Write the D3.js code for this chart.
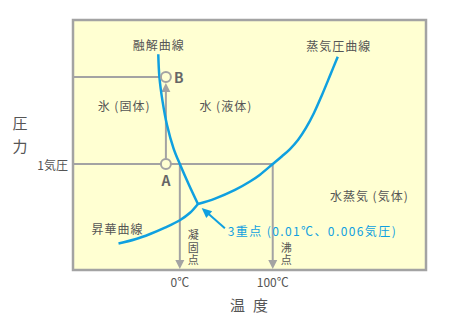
<!DOCTYPE html>
<html lang="ja">
<head>
<meta charset="utf-8">
<title>水の状態図</title>
<script src="https://cdn.jsdelivr.net/npm/d3@7"></script>
<style>
  body { margin: 0; background: #fff; }
  text { font-family: "Noto Sans CJK JP", "Noto Sans", sans-serif; fill: #555; }
</style>
</head>
<body>
<div id="chart"></div>
<script>
    // schematic phase diagram: x = temperature (℃, not to scale), y = pressure (気圧, not to scale)
    var meltCurve = [[-23.2, 2.036], [-22, 1.822], [-18.55, 1.589], [-13.8, 1.369], [-6.8, 1.149], [0, 1], [9.9, 0.802], [19.5, 0.623]];
    var vaporCurve = [[19.5, 0.623], [37.9, 0.674], [59.4, 0.756], [75.5, 0.835], [86.3, 0.9], [100, 1], [110, 1.074],
        [118.6, 1.142], [127.2, 1.227], [135.8, 1.341], [144.4, 1.482], [153, 1.652], [161.7, 1.836], [170, 2.014]];
    var sublimCurve = [[-66, 0.25], [-48, 0.29], [-32, 0.34], [-16, 0.4], [0, 0.47], [11, 0.54], [19.5, 0.623]];
    var statePoints = [{name: "A", t: -15, p: 1}, {name: "B", t: -15, p: 1.822}];
    var xTicks = [{t: 0, label: "0℃", note: "凝固点"}, {t: 100, label: "100℃", note: "沸点"}];
    var yTicks = [{p: 1, label: "1気圧"}];

    var w = 450;
    var h = 320;
    var gray = "#a3a3a3";
    var blue = "#0fa0e0";
    var bg = "#ffffd2";

    var x = d3.scaleLinear().domain([-115, 265]).range([73, 426]);
    var y = d3.scaleLinear().domain([0, 2.36]).range([270, 20]);

    var svg = d3.select("#chart").append("svg")
        .attr("width", w)
        .attr("height", h);

    svg.append("rect")
        .attr("x", x(-115))
        .attr("y", y(2.36))
        .attr("width", x(265) - x(-115))
        .attr("height", y(0) - y(2.36))
        .attr("fill", bg);

    var line = d3.line()
        .x(function (d) { return x(d[0]); })
        .y(function (d) { return y(d[1]); })
        .curve(d3.curveCatmullRom.alpha(0.5));

    // guide lines
    var B = statePoints[1], A = statePoints[0];
    svg.append("line")
        .attr("x1", x(-115)).attr("x2", x(meltCurve[1][0]))
        .attr("y1", y(B.p)).attr("y2", y(B.p))
        .attr("stroke", gray).attr("stroke-width", 2);
    svg.append("line")
        .attr("x1", x(-115)).attr("x2", x(100))
        .attr("y1", y(yTicks[0].p)).attr("y2", y(yTicks[0].p))
        .attr("stroke", gray).attr("stroke-width", 2);

    // arrow A -> B
    svg.append("line")
        .attr("x1", x(A.t)).attr("x2", x(A.t))
        .attr("y1", y(A.p) - 5).attr("y2", y(B.p) + 10)
        .attr("stroke", gray).attr("stroke-width", 2);
    svg.append("path")
        .attr("d", "M" + x(A.t) + "," + (y(B.p) + 6) + "l-4.5,9h9z")
        .attr("fill", gray);

    // melting / boiling point arrows
    xTicks.forEach(function (d) {
        svg.append("line")
            .attr("x1", x(d.t)).attr("x2", x(d.t))
            .attr("y1", y(1)).attr("y2", y(0) - 6)
            .attr("stroke", gray).attr("stroke-width", 2);
        svg.append("path")
            .attr("d", "M" + x(d.t) + "," + (y(0) - 1) + "l-4.5,-9h9z")
            .attr("fill", gray);
        svg.append("text")
            .attr("x", x(d.t))
            .attr("y", y(0) + 11)
            .attr("text-anchor", "middle")
            .attr("dominant-baseline", "central")
            .style("font-size", "12px")
            .text(d.label);
        // vertical note (凝固点 / 沸点)
        svg.append("text")
            .attr("x", x(d.t) + 13.5)
            .attr("y", y(0) - 3)
            .attr("text-anchor", "end")
            .style("writing-mode", "vertical-rl")
            .style("font-size", "11px")
            .style("letter-spacing", "1.5px")
            .text(d.note);
    });

    yTicks.forEach(function (d) {
        svg.append("text")
            .attr("x", x(-115) - 5)
            .attr("y", y(d.p))
            .attr("text-anchor", "end")
            .attr("dominant-baseline", "central")
            .style("font-size", "12px")
            .text(d.label);
    });

    // curves
    [meltCurve, vaporCurve, sublimCurve].forEach(function (c) {
        svg.append("path")
            .datum(c)
            .attr("d", line)
            .attr("fill", "none")
            .attr("stroke", blue)
            .attr("stroke-width", 2.5);
    });

    // state points
    svg.selectAll("circle")
        .data(statePoints)
        .enter()
        .append("circle")
        .attr("cx", function (d) { return x(d.t); })
        .attr("cy", function (d) { return y(d.p); })
        .attr("r", 5)
        .attr("fill", bg)
        .attr("stroke", gray)
        .attr("stroke-width", 2);

    svg.append("text")
        .attr("x", x(A.t)).attr("y", y(A.p) + 16)
        .attr("text-anchor", "middle").attr("dominant-baseline", "central")
        .style("font-size", "14px").style("font-weight", "bold").style("fill", "#666")
        .text(A.name);
    svg.append("text")
        .attr("x", x(B.t) + 8).attr("y", y(B.p))
        .attr("dominant-baseline", "central")
        .style("font-size", "14px").style("font-weight", "bold").style("fill", "#666")
        .text(B.name);

    // triple point arrow
    var tip = [x(23.5), y(0.585)], tail = [x(48.5), y(0.395)];
    var ang = Math.atan2(tip[1] - tail[1], tip[0] - tail[0]);
    svg.append("line")
        .attr("x1", tail[0]).attr("y1", tail[1])
        .attr("x2", tip[0] - 7 * Math.cos(ang)).attr("y2", tip[1] - 7 * Math.sin(ang))
        .attr("stroke", blue).attr("stroke-width", 2);
    var head = [0, -4.5, 4.5].map(function (o, i) {
        var back = i === 0 ? 0 : 10;
        return [tip[0] - back * Math.cos(ang) - o * Math.sin(ang), tip[1] - back * Math.sin(ang) + o * Math.cos(ang)];
    });
    svg.append("path")
        .attr("d", "M" + head.join("L") + "Z")
        .attr("fill", blue);

    // labels
    var labels = [
        {text: "融解曲線", t: -22.6, p: 2.13},
        {text: "蒸気圧曲線", t: 171, p: 2.12},
        {text: "氷 (固体)", t: -60, p: 1.55},
        {text: "水 (液体)", t: 49.5, p: 1.55},
        {text: "水蒸気 (気体)", t: 204, p: 0.7},
        {text: "昇華曲線", t: -67, p: 0.39}
    ];
    labels.forEach(function (d) {
        svg.append("text")
            .attr("x", x(d.t)).attr("y", y(d.p))
            .attr("text-anchor", "middle")
            .attr("dominant-baseline", "central")
            .style("font-size", "12px")
            .style("letter-spacing", "1px")
            .text(d.text);
    });
    svg.append("text")
        .attr("x", x(51.6)).attr("y", y(0.37))
        .attr("dominant-baseline", "central")
        .style("font-size", "12px")
        .style("letter-spacing", "1.4px")
        .style("fill", blue)
        .text("3重点 (0.01℃、0.006気圧)");

    // frame
    svg.append("rect")
        .attr("x", x(-115))
        .attr("y", y(2.36))
        .attr("width", x(265) - x(-115))
        .attr("height", y(0) - y(2.36))
        .attr("fill", "none")
        .attr("stroke", gray)
        .attr("stroke-width", 2.5);

    // axis titles
    svg.append("text")
        .attr("x", 253).attr("y", 304)
        .attr("text-anchor", "middle").attr("dominant-baseline", "central")
        .style("font-size", "15px").style("letter-spacing", "8px")
        .text("温度");
    svg.append("text")
        .attr("x", 20).attr("y", 116)
        .style("writing-mode", "vertical-rl")
        .style("font-size", "15px")
        .style("letter-spacing", "7.5px")
        .text("圧力");
</script>
</body>
</html>
